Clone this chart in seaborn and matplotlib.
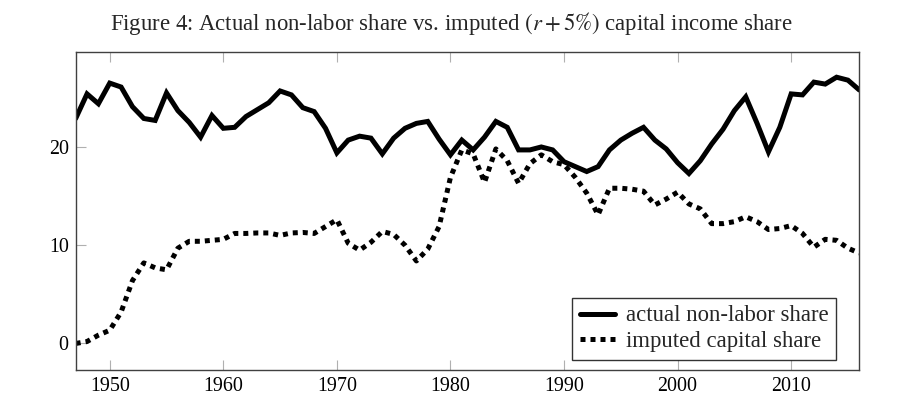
import numpy as np
import pandas as pd
import matplotlib
matplotlib.use("Agg")
import matplotlib.pyplot as plt
import seaborn as sns
from matplotlib.lines import Line2D

years = list(range(1947, 2017))

actual_nonlabor = [
    22.9, 25.4, 24.4, 26.5, 26.1, 24.1, 22.9, 22.7, 25.5, 23.7,
    22.5, 21.0, 23.2, 21.9, 22.0, 23.1, 23.8, 24.5, 25.7, 25.3,
    24.0, 23.6, 21.9, 19.4, 20.7, 21.1, 20.9, 19.3, 20.9, 21.9,
    22.4, 22.6, 20.8, 19.2, 20.7, 19.7, 21.0, 22.6, 22.0, 19.7,
    19.7, 20.0, 19.7, 18.5, 18.0, 17.5, 18.0, 19.7, 20.7, 21.4,
    22.0, 20.7, 19.8, 18.4, 17.3, 18.6, 20.3, 21.8, 23.7, 25.1,
    22.4, 19.5, 22.0, 25.4, 25.3, 26.6, 26.4, 27.1, 26.8, 25.8,
]

imputed_capital = [
    0.0, 0.2, 0.85, 1.35, 3.2, 6.4, 8.2, 7.7, 7.5, 9.7,
    10.4, 10.4, 10.5, 10.6, 11.2, 11.2, 11.25, 11.25, 11.0, 11.25,
    11.3, 11.2, 11.9, 12.6, 10.2, 9.5, 10.3, 11.4, 11.1, 10.0,
    8.4, 9.6, 11.9, 16.9, 19.7, 19.3, 16.4, 19.8, 18.6, 16.3,
    18.3, 19.2, 18.5, 18.2, 16.9, 15.3, 13.1, 15.8, 15.8, 15.7,
    15.5, 14.1, 14.7, 15.4, 14.2, 13.7, 12.2, 12.2, 12.4, 12.9,
    12.4, 11.6, 11.7, 12.0, 11.2, 9.8, 10.6, 10.5, 9.7, 9.2,
]

series_names = ["actual non-labor share", "imputed capital share"]
x_ticks = [1950, 1960, 1970, 1980, 1990, 2000, 2010]
y_ticks = [0, 10, 20]
title = r"Figure 4: Actual non-labor share vs. imputed $(r+5\%)$ capital income share"

df = pd.DataFrame({
    "year": years * 2,
    "value": actual_nonlabor + imputed_capital,
    "series": [series_names[0]] * len(years) + [series_names[1]] * len(years),
})

sns.set_theme(style="white")
plt.rcParams["font.family"] = ["Liberation Serif", "DejaVu Serif"]
plt.rcParams["mathtext.fontset"] = "stix"

fig = plt.figure(figsize=(9.03, 4.2), dpi=100)
ax = fig.add_axes([0.0838, 0.119, 0.9516 - 0.0838, 0.877 - 0.119])

sns.lineplot(data=df[df.series == series_names[0]], x="year", y="value",
             color="black", linewidth=3.6, ax=ax, legend=False)
sns.lineplot(data=df[df.series == series_names[1]], x="year", y="value",
             color="black", linewidth=3.6, ax=ax, legend=False)
lines = ax.get_lines()
lines[0].set_solid_joinstyle("miter")
lines[1].set_dashes((1.0, 1.0))
lines[1].set_dash_capstyle("butt")

ax.set_xlim(1947, 2016)
ax.set_ylim(-2.7, 29.7)
ax.set_xticks(x_ticks)
ax.set_yticks(y_ticks)
ax.set_xlabel("")
ax.set_ylabel("")

for s in ax.spines.values():
    s.set_color("#404040")
    s.set_linewidth(1.0)

ax.tick_params(axis="both", direction="in", length=7, width=0.8,
               color="#b0b0b0", labelsize=14.4, labelcolor="black",
               pad=5)
ax.tick_params(axis="x", top=True, bottom=True)
ax.tick_params(axis="y", left=True, right=False)

fig.text(0.5, 0.945, title, ha="center", va="center", fontsize=16.4)

handles = [
    Line2D([], [], color="black", linewidth=3.6),
    Line2D([], [], color="black", linewidth=3.6, dashes=(1.0, 1.0),
           dash_capstyle="butt"),
]
leg = ax.legend(handles, series_names, loc="lower right",
                bbox_to_anchor=(0.9706, 0.0314), borderaxespad=0,
                fontsize=16.4, frameon=True,
                fancybox=False, edgecolor="black", handlelength=1.55,
                handletextpad=0.45, borderpad=0.35, labelspacing=0.2)
leg.get_frame().set_linewidth(1.0)

fig.savefig("out.png", dpi=100)
